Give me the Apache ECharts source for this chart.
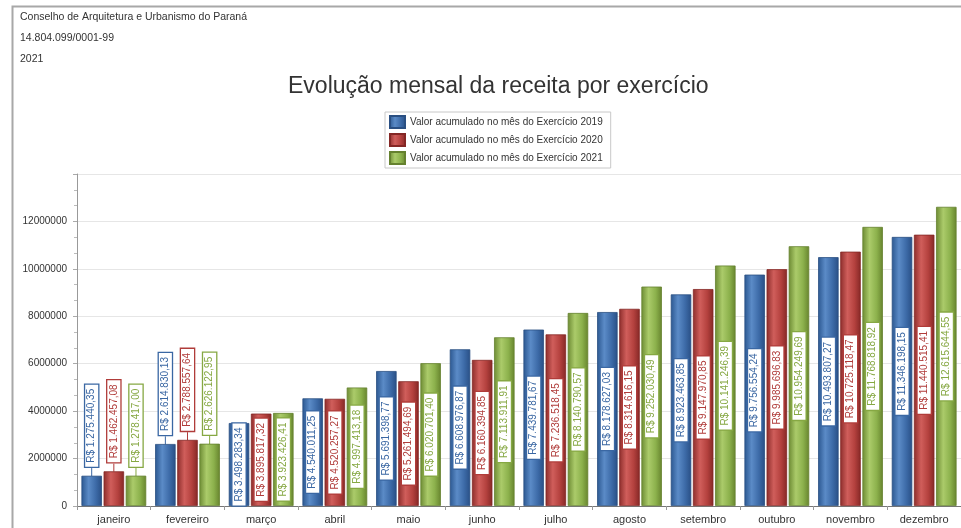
<!DOCTYPE html>
<html>
<head>
<meta charset="utf-8">
<title>Evolução mensal da receita por exercício</title>
<script src="https://cdn.jsdelivr.net/npm/echarts@6/dist/echarts.min.js"></script>
<style>
    html, body { margin: 0; padding: 0; background: #fff; }
    #main { width: 961px; height: 528px; }
</style>
</head>
<body>
<div id="main"></div>
<script>
// meses
var meses = ['janeiro', 'fevereiro', 'março', 'abril', 'maio', 'junho', 'julho', 'agosto', 'setembro', 'outubro', 'novembro', 'dezembro'];

// valor acumulado no mes, por exercicio
var valores2019 = [1275440.35, 2614830.13, 3498283.34, 4540011.25, 5691398.77, 6608976.87, 7439781.67, 8178627.03, 8923463.85, 9756554.24, 10493807.27, 11346198.15];
var valores2020 = [1462457.08, 2788557.64, 3895817.32, 4520257.27, 5261494.69, 6160394.85, 7236518.45, 8314616.15, 9147970.85, 9985696.83, 10725118.47, 11440515.41];
var valores2021 = [1278417.00, 2626122.95, 3923426.41, 4997413.18, 6020701.40, 7113911.91, 8140790.57, 9252030.49, 10141246.39, 10954249.69, 11768818.92, 12615644.55];

var nomesSeries = [
    'Valor acumulado no mês do Exercício 2019',
    'Valor acumulado no mês do Exercício 2020',
    'Valor acumulado no mês do Exercício 2021'
];

// meses em que o rotulo fica acima da barra
var rotuloAcima = [0, 1];

var cabecalho = ['Conselho de Arquitetura e Urbanismo do Paraná', '14.804.099/0001-99', '2021'];

function formatReal(v) {
    var partes = v.toFixed(2).split('.');
    var inteiro = partes[0].replace(/\B(?=(\d{3})+(?!\d))/g, '.');
    return 'R$ ' + inteiro + ',' + partes[1];
}

function gradiente(c) {
    return new echarts.graphic.LinearGradient(0, 0, 1, 0, [
        { offset: 0, color: c[0] },
        { offset: 0.35, color: c[1] },
        { offset: 0.7, color: c[2] },
        { offset: 1, color: c[3] }
    ]);
}

function montaSerie(nome, valores, cores, corTexto, borda) {
    var dados = valores.map(function (v, i) {
        if (rotuloAcima.indexOf(i) >= 0) {
            return {
                value: v,
                label: { position: 'top', distance: 9, align: 'left', verticalAlign: 'middle' },
                labelLine: { show: true, lineStyle: { color: corTexto, width: 1 } }
            };
        }
        return v;
    });
    return {
        name: nome,
        type: 'bar',
        barWidth: 20.5,
        barGap: '8%',
        itemStyle: {
            color: gradiente(cores),
            borderColor: borda,
            borderWidth: 0.8
        },
        label: {
            show: true,
            position: 'inside',
            rotate: 90,
            formatter: function (p) { return formatReal(p.value); },
            fontFamily: 'Liberation Sans',
            fontSize: 10,
            color: corTexto,
            backgroundColor: '#fff',
            borderColor: corTexto,
            borderWidth: 1.3,
            padding: [2, 4, 1, 4]
        },
        emphasis: { disabled: true },
        data: dados
    };
}

function grafico() {
    var myChart = echarts.init(document.getElementById('main'));

    var textosCabecalho = cabecalho.map(function (t, i) {
        return {
            type: 'text',
            left: 20,
            top: [12, 33, 54][i],
            style: { text: t, fontFamily: 'Liberation Sans', fontSize: 10.5, fill: '#333' }
        };
    });

    var option = {
        backgroundColor: '#fff',
        animation: false,
        title: {
            text: 'Evolução mensal da receita por exercício',
            left: 283,
            top: 70,
            textStyle: { fontFamily: 'Liberation Sans', fontSize: 23, fontWeight: 'normal', color: '#333' }
        },
        legend: {
            orient: 'vertical',
            left: 385,
            top: 112,
            itemWidth: 15,
            itemHeight: 12,
            itemGap: 4,
            padding: [3, 8, 3, 4],
            borderColor: '#c8c8c8',
            borderWidth: 1,
            icon: 'rect',
            textStyle: { fontFamily: 'Liberation Sans', fontSize: 10, lineHeight: 14, color: '#333' },
            data: nomesSeries
        },
        graphic: [{
            type: 'rect',
            shape: { x: 12.5, y: 6.5, width: 1000, height: 600 },
            style: { fill: 'none', stroke: '#a8a8a8', lineWidth: 2 },
            silent: true
        }].concat(textosCabecalho),
        grid: {
            left: 77,
            top: 174,
            width: 889,
            bottom: 22,
            containLabel: false
        },
        xAxis: {
            type: 'category',
            data: meses,
            axisLine: { lineStyle: { color: '#777' } },
            axisTick: { show: true, length: 4, lineStyle: { color: '#999' } },
            axisLabel: { fontFamily: 'Liberation Sans', fontSize: 11, color: '#333', margin: 8, interval: 0 }
        },
        yAxis: {
            type: 'value',
            min: 0,
            max: 14000000,
            interval: 2000000,
            axisLine: { show: true, lineStyle: { color: '#999' } },
            axisTick: { show: true, length: 4, lineStyle: { color: '#aaa' } },
            minorTick: { show: true, splitNumber: 3, length: 3, lineStyle: { color: '#bbb' } },
            splitLine: { lineStyle: { color: '#e6e6e6' } },
            axisLabel: {
                fontFamily: 'Liberation Sans',
                fontSize: 10,
                color: '#333',
                margin: 10,
                formatter: function (v) { return v >= 14000000 ? '' : String(v); }
            }
        },
        series: [
            montaSerie(nomesSeries[0], valores2019, ['#2b5790', '#5b8bc7', '#3d6ba8', '#294f85'], '#3a67a3', '#2a4f82'),
            montaSerie(nomesSeries[1], valores2020, ['#8c2d2b', '#d05e5b', '#b4413e', '#852826'], '#b03c3a', '#842725'),
            montaSerie(nomesSeries[2], valores2021, ['#6c8a33', '#abcb6a', '#8cb14c', '#67842e'], '#86a843', '#65812f')
        ]
    };

    myChart.setOption(option);
}

grafico();
</script>
</body>
</html>
